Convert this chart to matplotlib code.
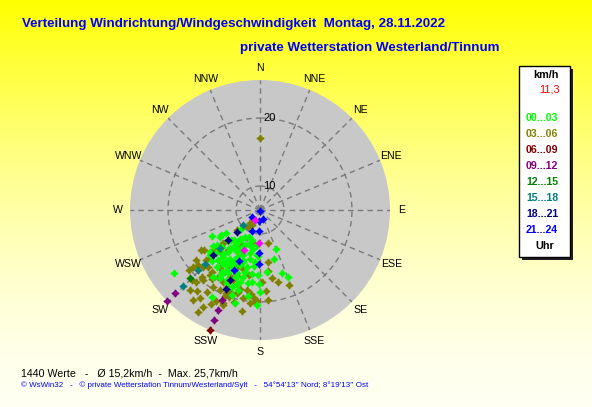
import numpy as np
import matplotlib
matplotlib.use("Agg")
import matplotlib.pyplot as plt
from matplotlib.patches import Rectangle
from matplotlib.path import Path

# ---------------- data ----------------
directions = ["N", "NNE", "NE", "ENE", "E", "ESE", "SE", "SSE",
              "S", "SSW", "SW", "WSW", "W", "WNW", "NW", "NNW"]
ring_ticks = [10, 20]
speed_min = 6.47
speed_max = 25.6

legend_labels = ["00...03", "03...06", "06...09", "09...12",
                 "12...15", "15...18", "18...21", "21...24"]
legend_colors = ["#00ff00", "#808000", "#800000", "#800080",
                 "#008000", "#008080", "#000080", "#0000ff"]

# 03...06 (olive)
olive_dir = [234.3, 228.3, 229.6, 221.2, 216.5, 214.2, 210.4, 201.9, 201.1, 199.6,
             195.6, 190.7, 184.4, 183.1, 175.8, 158.5, 172.2, 171.5, 166.0, 215.0,
             217.0, 227.8, 226.8, 218.0, 219.0, 211.3, 206.6, 202.2, 194.3, 189.4,
             200.9, 225.0, 221.2, 221.4, 217.6, 212.0, 207.1, 203.5, 200.2, 194.9,
             186.2, 182.1, 211.2, 207.4, 202.1, 211.2, 202.3, 201.1, 229.4, 226.0,
             214.5, 206.0, 229.4, 226.6, 211.0, 194.7, 0.0, 166.0, 205.0, 218.0,
             196.0, 210.0, 222.0,
             232.0, 236.0, 224.0, 218.0, 213.0, 206.0, 196.0, 190.0, 186.0, 178.0,
             175.0, 170.0, 222.0, 230.0, 208.0, 199.0, 190.0, 215.0, 204.0, 228.0]
olive_spd = [16.6, 18.7, 19.4, 22.1, 23.0, 22.2, 23.0, 21.2, 21.5, 20.1,
             19.2, 19.7, 19.3, 20.0, 18.4, 18.3, 15.5, 14.2, 11.5, 9.5,
             8.9, 13.8, 17.3, 18.0, 19.8, 19.7, 19.6, 19.7, 18.4, 18.4,
             17.5, 18.3, 19.5, 20.6, 18.6, 18.1, 18.3, 18.8, 19.3, 18.9,
             20.2, 19.8, 24.0, 22.0, 20.1, 17.4, 15.5, 14.6, 15.5, 16.7,
             16.9, 9.0, 11.0, 12.9, 12.2, 11.3, 17.0, 17.4, 13.5, 14.0,
             15.5, 16.0, 15.0,
             18.4, 17.0, 20.8, 21.6, 20.8, 21.4, 20.6, 21.5, 18.9, 17.0,
             19.8, 16.6, 17.8, 20.2, 12.6, 16.8, 16.2, 18.8, 17.2, 14.8]

# 00...03 (lime)
lime_dir = [241.4, 237.3, 236.3, 225.0, 223.3, 214.4, 209.3, 195.5, 185.4, 207.6,
            212.0, 217.2, 226.2, 231.0, 225.5, 228.0, 218.2, 211.8, 206.5, 200.4,
            193.0, 184.2, 211.2, 205.2, 200.0, 193.2, 185.5, 217.4, 211.8, 206.6,
            200.2, 194.0, 187.5, 181.5, 215.0, 210.4, 205.4, 195.6, 200.3, 195.2,
            209.1, 195.0, 182.0, 180.0, 163.8, 157.8, 161.0, 157.5, 233.6, 181.0,
            173.8, 186.6, 236.3, 203.0, 215.0, 198.0, 208.0, 190.0, 220.0, 200.0,
            212.0,
            198.0, 205.0, 212.0, 219.0, 226.0, 192.0, 199.0, 206.0, 213.0, 220.0,
            186.0, 194.0, 202.0, 209.0, 216.0, 223.0, 189.0, 197.0, 204.0, 211.0,
            230.0, 233.0, 188.0, 198.0, 183.0, 207.0, 215.0, 221.0, 202.0, 194.0]
lime_spd = [14.5, 13.3, 12.5, 10.5, 12.6, 12.1, 11.0, 11.1, 11.7, 12.9,
            13.4, 14.2, 14.3, 14.7, 15.6, 16.4, 15.2, 14.9, 14.2, 13.6,
            13.0, 13.1, 16.0, 15.7, 15.1, 15.1, 14.1, 17.0, 17.2, 16.9,
            16.4, 16.6, 15.9, 16.1, 18.5, 18.1, 17.9, 17.4, 18.5, 18.7,
            21.1, 20.7, 20.4, 18.5, 14.0, 12.7, 16.3, 17.1, 22.2, 17.3,
            15.6, 17.1, 13.6, 12.0, 12.8, 14.5, 15.5, 12.3, 16.0, 17.0,
            11.5,
            11.8, 12.5, 13.0, 13.6, 13.0, 13.8, 14.2, 14.8, 15.4, 15.0,
            14.8, 15.8, 16.2, 16.6, 16.1, 16.8, 17.4, 17.9, 18.3, 17.6,
            16.0, 15.2, 19.2, 19.6, 13.2, 13.2, 11.6, 12.4, 10.8, 12.0]

# 06...09 (maroon)
maroon_dir = [202.6]
maroon_spd = [25.6]

# 09...12 (purple)
purple_dir = [225.6, 225.4, 202.7, 202.6, 202.7]
purple_spd = [24.0, 25.6, 20.9, 22.4, 24.0]

# 12...15 (green)
green_dir = [225.7]
green_spd = [20.9]

# 15...18 (teal)
teal_dir = [228.0, 226.2, 225.9, 225.8, 225.5]
teal_spd = [9.8, 14.6, 17.8, 19.1, 22.4]

# 18...21 (navy)
navy_dir = [226.3, 226.6, 226.4, 203.2, 203.5]
navy_spd = [11.2, 12.9, 16.1, 17.7, 19.1]

# 21...24 (blue)
blue_dir = [180.0, 228.7, 183.0, 160.5, 182.0, 201.8, 181.0, 181.0, 202.5, 203.2]
blue_spd = [6.6, 8.1, 8.1, 7.95, 9.6, 9.8, 12.8, 14.4, 14.6, 16.1]

# current values (magenta)
current_dir = [208.3, 181.0, 201.8]
current_spd = [8.1, 11.3, 12.8]

title1 = "Verteilung Windrichtung/Windgeschwindigkeit  Montag, 28.11.2022"
title2 = "private Wetterstation Westerland/Tinnum"
stats_text = "1440 Werte   -   \u00d8 15,2km/h  -  Max. 25,7km/h"
footer_text = ("\u00a9 WsWin32   -   \u00a9 private Wetterstation Tinnum/Westerland/Sylt   -   "
               "54\u00b054'13'' Nord; 8\u00b019'13'' Ost")
current_value = "11,3"

# ---------------- figure ----------------
W, H = 592, 407
fig = plt.figure(figsize=(W / 100, H / 100), dpi=100)
plt.rcParams["font.family"] = ["Liberation Sans", "DejaVu Sans"]


def fx(px):
    return px / W


def fy(py):
    return 1 - py / H


# background gradient
bg = fig.add_axes([0, 0, 1, 1], zorder=-10)
t = np.linspace(0, 1, 256)
blue_ch = 1 - (1 - t) ** 1.6
grad = np.zeros((256, 2, 3))
grad[:, :, 0] = 1.0
grad[:, :, 1] = 1.0
grad[:, :, 2] = (blue_ch * 0.95)[:, None]
bg.imshow(grad, aspect="auto", extent=[0, 1, 0, 1], origin="upper")
bg.set_axis_off()

# polar axes
cx, cy, R = 260, 210, 130
ax = fig.add_axes([fx(cx - R), fy(cy + R), 2 * R / W, 2 * R / H], projection="polar")
ax.set_theta_zero_location("N")
ax.set_theta_direction(-1)
ax.set_ylim(speed_min, speed_max)
ax.set_facecolor("#c8c8c8")
ax.spines["polar"].set_visible(False)
ax.set_xticks(np.deg2rad(np.arange(0, 360, 22.5)))
ax.set_xticklabels([])
ax.set_yticks(ring_ticks)
ax.set_yticklabels([])
ax.grid(True, color="#7a7a7a", linestyle=(0, (4, 3)), linewidth=1)
ax.tick_params(length=0)

px_per_unit = R / (speed_max - speed_min)
label_r = speed_min + 142 / px_per_unit
for i, d in enumerate(directions):
    ax.text(np.deg2rad(i * 22.5), label_r, d, ha="center", va="center",
            fontsize=7.6, color="black")
for rt in ring_ticks:
    ax.annotate(str(rt), xy=(0, rt), xytext=(3, 0), textcoords="offset pixels",
                ha="left", va="center", fontsize=8, color="black")

# centre square
ax.plot([0], [speed_min], marker="s", markersize=4.5, color="#808080",
        linestyle="none", zorder=2)

# plus-diamond marker shape
k = 0.42
verts = [(0, 1), (k, k), (1, 0), (k, -k), (0, -1), (-k, -k), (-1, 0), (-k, k), (0, 1)]
codes = [Path.MOVETO] + [Path.LINETO] * 7 + [Path.CLOSEPOLY]
marker = Path(verts, codes)
ms = 5.0
groups = [
    (olive_dir, olive_spd, legend_colors[1]),
    (lime_dir, lime_spd, legend_colors[0]),
    (maroon_dir, maroon_spd, legend_colors[2]),
    (purple_dir, purple_spd, legend_colors[3]),
    (green_dir, green_spd, legend_colors[4]),
    (teal_dir, teal_spd, legend_colors[5]),
    (navy_dir, navy_spd, legend_colors[6]),
    (blue_dir, blue_spd, legend_colors[7]),
    (current_dir, current_spd, "#ff00ff"),
]
for dirs, spds, col in groups:
    ax.plot(np.deg2rad(dirs), spds, linestyle="none", marker=marker,
            markersize=ms, color=col, markeredgewidth=0.8, clip_on=False, zorder=3)

# titles
fig.text(fx(22), fy(24), title1, ha="left", va="center", fontsize=9.6,
         fontweight="bold", color="#0000ff")
fig.text(fx(240), fy(48), title2, ha="left", va="center", fontsize=9.6,
         fontweight="bold", color="#0000ff")

# legend box
x0, y0, x1, y1 = 519, 66, 570, 257
fig.patches.append(Rectangle((fx(x0 + 3), fy(y1 + 3)), fx(x1 - x0), (y1 - y0) / H,
                             transform=fig.transFigure, facecolor="#202020",
                             edgecolor="none", zorder=1))
fig.patches.append(Rectangle((fx(x0), fy(y1)), fx(x1 - x0), (y1 - y0) / H,
                             transform=fig.transFigure, facecolor="white",
                             edgecolor="black", linewidth=1, zorder=2))
fig.text(fx(546), fy(75.5), "km/h", ha="center", va="center", fontsize=7.8,
         fontweight="bold", color="black", zorder=3)
fig.text(fx(560), fy(90), current_value, ha="right", va="center", fontsize=7.8,
         color="#ff0000", zorder=3)
leg_y = [117.7, 134, 150, 165.7, 181.7, 197.7, 214, 230]
for lab, col, yy in zip(legend_labels, legend_colors, leg_y):
    fig.text(fx(526), fy(yy), lab, ha="left", va="center", fontsize=7.6,
             fontweight="bold", color=col, zorder=3)
fig.text(fx(545), fy(246), "Uhr", ha="center", va="center", fontsize=7.8,
         fontweight="bold", color="black", zorder=3)

# bottom texts
fig.text(fx(21), fy(373), stats_text, ha="left", va="center", fontsize=7.7,
         color="black")
fig.text(fx(21), fy(385.5), footer_text, ha="left", va="center", fontsize=5.8,
         color="#0000ff")

fig.savefig("out.png", dpi=100)
